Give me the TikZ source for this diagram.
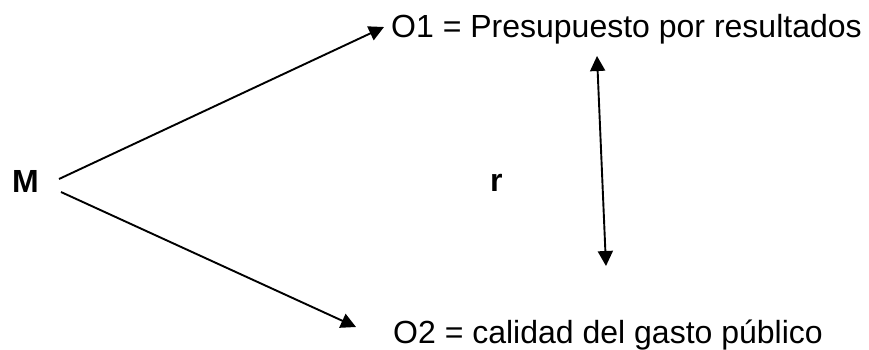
\documentclass[tikz,border=0pt]{standalone}
\usepackage{fontspec}
\setmainfont{Liberation Sans}
\usetikzlibrary{arrows.meta}
\begin{document}
\begin{tikzpicture}[x=1pt,y=-1pt,
  lbl/.style={anchor=base west,inner sep=0pt,font=\fontsize{32}{38}\selectfont},
  blbl/.style={lbl,font=\fontsize{32}{38}\selectfont\bfseries},
  conn/.style={line width=1.9pt,-{Triangle[length=15pt,width=15pt]}},
  dconn/.style={line width=1.9pt,{Triangle[length=15pt,width=15pt]}-{Triangle[length=15pt,width=15pt]}}]
\useasboundingbox (0,0) rectangle (869,349);
\node[blbl] (m) at (12,192) {M};
\node[blbl] (r) at (490,191) {r};
\node[lbl] (o1) at (391,37) {O1 = Presupuesto por resultados};
\node[lbl] (o2) at (393,343) {O2 = calidad del gasto público};
\coordinate (m1) at (59,179);
\coordinate (m2) at (61,192);
\coordinate (t1) at (384,27);
\coordinate (t2) at (356,327);
\coordinate (v1) at (597,56);
\coordinate (v2) at (606,266);
\draw[conn] (m1) -- (t1);
\draw[conn] (m2) -- (t2);
\draw[dconn] (v1) -- (v2);
\end{tikzpicture}
\end{document}
